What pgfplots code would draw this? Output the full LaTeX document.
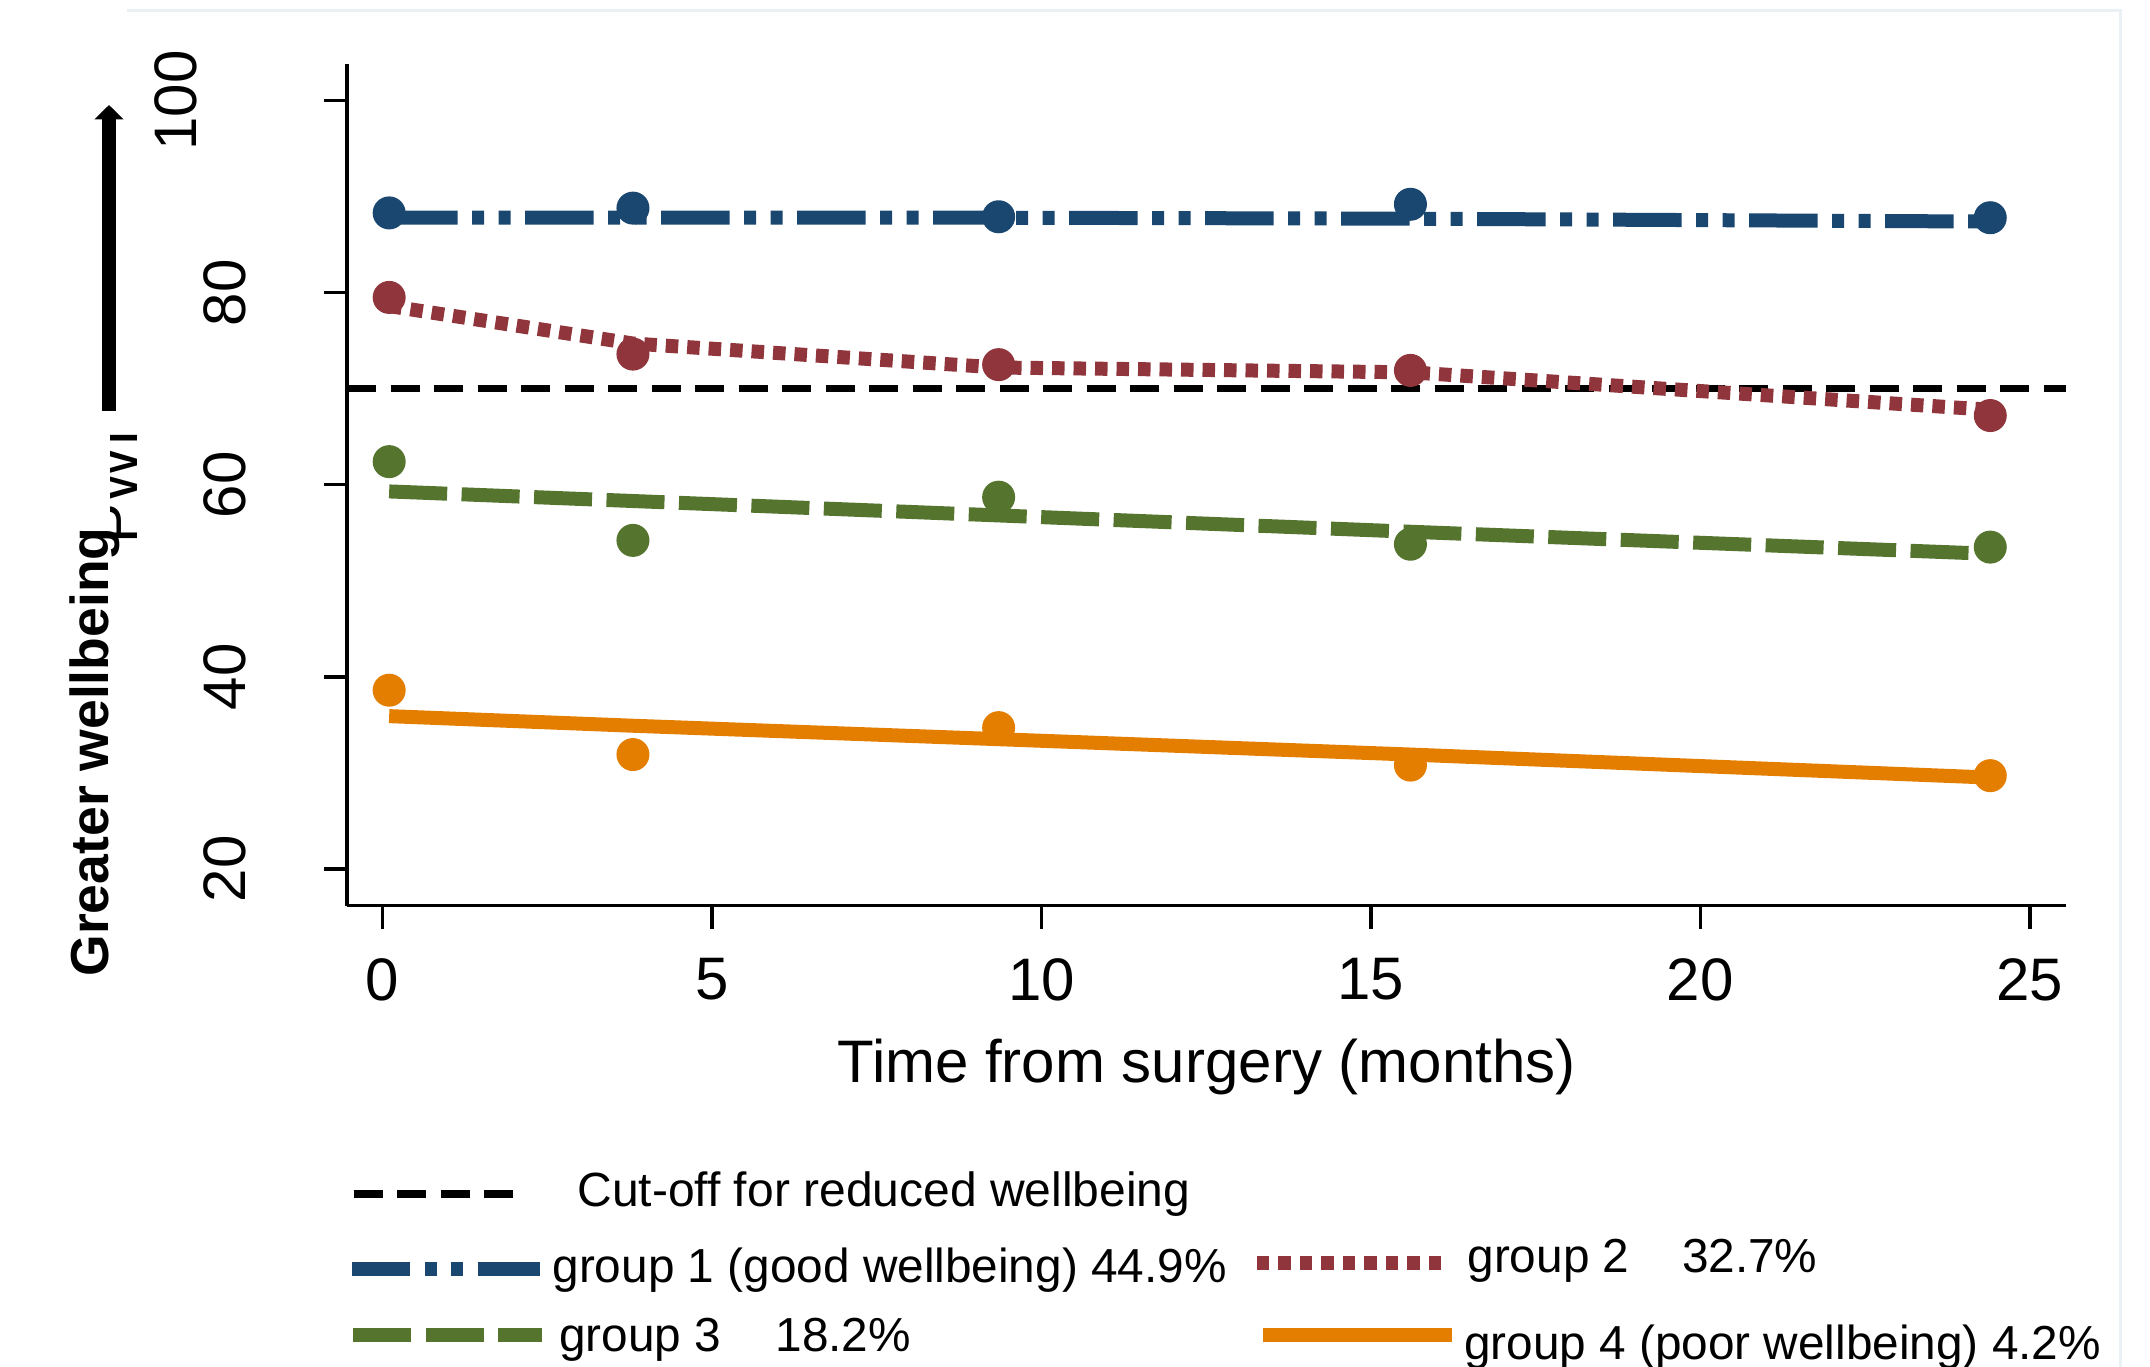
\documentclass[border=0pt]{standalone}
\usepackage{fontspec}
\setmainfont{Liberation Sans}
\usepackage{pgfplots}
\pgfplotsset{compat=1.18}
\usetikzlibrary{arrows.meta}
\definecolor{navy}{RGB}{26,71,111}
\definecolor{maroon}{RGB}{144,53,59}
\definecolor{fgreen}{RGB}{85,117,47}
\definecolor{dkorange}{RGB}{227,126,0}
\definecolor{framec}{RGB}{234,241,244}
\tikzset{
  g1/.style={navy, line width=2.8pt, dash pattern=on 13.7pt off 2.9pt on 2.4pt off 2.9pt on 2.4pt off 2.9pt},
  g2/.style={maroon, line width=2.8pt, dash pattern=on 2.5pt off 1.8pt},
  g3/.style={fgreen, line width=2.8pt, dash pattern=on 11.6pt off 2.9pt},
  g4/.style={dkorange, line width=2.8pt},
  cut/.style={black, line width=1.45pt, dash pattern=on 5.8pt off 2.9pt},
}
\begin{document}
\begin{tikzpicture}
\path[use as bounding box] (0,0) rectangle (430pt,273.2pt);
\draw[framec, line width=0.6pt] (25.4pt,271pt) -- (424pt,271pt) -- (424pt,-1pt);
\begin{axis}[
  at={(69.4pt,92.08pt)}, anchor=south west,
  width=343.8pt, height=168.4pt, scale only axis,
  xmin=-0.54, xmax=25.55, ymin=16.17, ymax=103.85,
  axis x line*=bottom, axis y line*=left,
  axis line style={-, line width=0.7pt},
  every tick/.style={black, line width=0.7pt},
  xtick={0,5,10,15,20,25}, ytick={20,40,60,80,100},
  yticklabels={20,40,60,80,\raisebox{10pt}{100}},
  minor tick num=0,
  tick align=outside, major tick length=4.7pt,
  /pgf/number format/assume math mode=true,
  tick label style={font=\fontsize{12}{14}\selectfont},
  xticklabel style={anchor=north, inner sep=0pt},
  xticklabel shift=5.7pt,
  yticklabel style={rotate=90, anchor=south, inner sep=0pt},
  yticklabel shift=15.3pt,
  clip=false,
]
\addplot[cut] coordinates {(-0.54,70) (25.55,70)};
% fitted lines
\addplot[g1] coordinates {(0.1,87.8) (3.8,87.8) (9.35,87.8) (15.6,87.7) (24.4,87.4)};
\addplot[g2] coordinates {(0.1,78.6) (3.8,74.7) (9.35,72.2) (15.6,71.7) (24.4,67.8)};
\addplot[g3] coordinates {(0.1,59.3) (3.8,58.3) (9.35,56.8) (15.6,55.1) (24.4,52.8)};
\addplot[g4] coordinates {(0.1,35.9) (3.8,34.9) (9.35,33.5) (15.6,31.9) (24.4,29.5)};
% observed means
\addplot[only marks, mark=*, mark size=3.1pt, navy, mark options={draw=none, fill=navy}] coordinates {(0.1,88.3) (3.8,88.8) (9.35,87.9) (15.6,89.2) (24.4,87.8)};
\addplot[only marks, mark=*, mark size=3.1pt, maroon, mark options={draw=none, fill=maroon}] coordinates {(0.1,79.5) (3.8,73.6) (9.35,72.5) (15.6,71.9) (24.4,67.2)};
\addplot[only marks, mark=*, mark size=3.1pt, fgreen, mark options={draw=none, fill=fgreen}] coordinates {(0.1,62.4) (3.8,54.2) (9.35,58.7) (15.6,53.8) (24.4,53.5)};
\addplot[only marks, mark=*, mark size=3.1pt, dkorange, mark options={draw=none, fill=dkorange}] coordinates {(0.1,38.6) (3.8,31.9) (9.35,34.7) (15.6,30.8) (24.4,29.7)};
\node[anchor=base, inner sep=0pt, font=\fontsize{12}{14}\selectfont] at (rel axis cs:0.5,0) [yshift=-35.3pt] {Time from surgery (months)};
\end{axis}
% y title and arrow
\node[rotate=90, anchor=base, inner sep=0pt, font=\fontsize{10.7}{12}\selectfont\bfseries] at (21.66pt,122.8pt) {Greater wellbeing};
\draw[line width=2.9pt, -{Triangle[width=5.7pt, length=2.9pt]}] (21.8pt,191pt) -- (21.8pt,252.2pt);
\begin{scope}
\clip (22pt,160pt) rectangle (29pt,190pt);
\node[rotate=90, anchor=base, inner sep=0pt, font=\fontsize{12}{14}\selectfont] at (27.4pt,175.9pt) {PWI};
\end{scope}
% legend
\draw[cut] (70.7pt,34.4pt) -- (102.7pt,34.4pt);
\node[anchor=base west, inner sep=0pt, font=\fontsize{9.6}{11}\selectfont] at (115.3pt,31.9pt) {Cut-off for reduced wellbeing};
\draw[g1, dash phase=2pt] (70.3pt,19.4pt) -- (108pt,19.4pt);
\node[anchor=base west, inner sep=0pt, font=\fontsize{9.55}{11}\selectfont] at (110.3pt,16.8pt) {group 1 (good wellbeing) 44.9\%};
\draw[g2] (251.3pt,20.7pt) -- (288.7pt,20.7pt);
\node[anchor=base west, inner sep=0pt, font=\fontsize{9.55}{11}\selectfont] at (293.3pt,18.7pt) {group 2};
\node[anchor=base west, inner sep=0pt, font=\fontsize{9.55}{11}\selectfont] at (336.2pt,18.7pt) {32.7\%};
\draw[g3] (70.6pt,6.2pt) -- (108.3pt,6.2pt);
\node[anchor=base west, inner sep=0pt, font=\fontsize{9.55}{11}\selectfont] at (111.6pt,3pt) {group 3};
\node[anchor=base west, inner sep=0pt, font=\fontsize{9.55}{11}\selectfont] at (154.9pt,3pt) {18.2\%};
\draw[g4] (252.5pt,6.3pt) -- (290.3pt,6.3pt);
\node[anchor=base west, inner sep=0pt, font=\fontsize{9.55}{11}\selectfont] at (292.6pt,1.4pt) {group 4 (poor wellbeing) 4.2\%};
\end{tikzpicture}
\end{document}
